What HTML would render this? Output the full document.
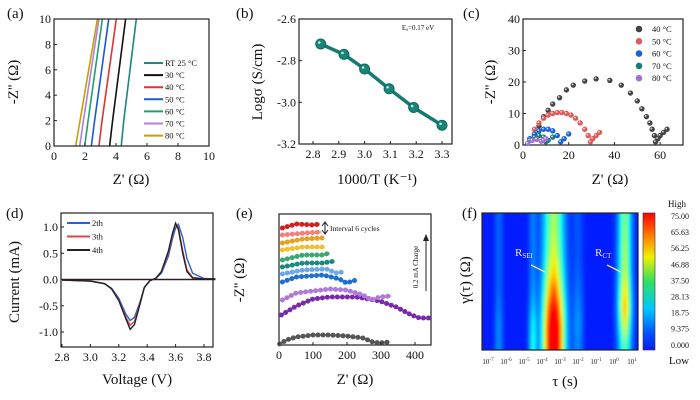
<!DOCTYPE html>
<html><head><meta charset="utf-8"><style>
html,body{margin:0;padding:0;background:#fff;}
svg{display:block;font-family:"Liberation Serif",serif;}
</style></head><body>
<svg id="fig" width="700" height="400" viewBox="0 0 700 400" xmlns="http://www.w3.org/2000/svg">
<defs>
<linearGradient id="jetbar" x1="0" y1="1" x2="0" y2="0">
<stop offset="0" stop-color="#0a1ee8"/><stop offset="0.12" stop-color="#0050ff"/><stop offset="0.3" stop-color="#00c8ff"/><stop offset="0.5" stop-color="#30e060"/><stop offset="0.68" stop-color="#f0f000"/><stop offset="0.85" stop-color="#ff7000"/><stop offset="1" stop-color="#ff0000"/>
</linearGradient>
<filter id="hblur" x="-10%" y="-10%" width="120%" height="120%"><feGaussianBlur stdDeviation="1.2 7"/></filter>
<clipPath id="fclip"><rect x="482" y="213" width="156" height="137"/></clipPath>
</defs>
</svg>
<script>
// ---------- data ----------
// (a)
const aLabels=['RT 25 °C','30 °C','40 °C','50 °C','60 °C','70 °C','80 °C'];
const aColors=['#1a8a7a','#111111','#e03434','#1a5ad0','#20a070','#b080e0','#c8a000'];
const aXBottom=[4.34,3.59,2.9,2.41,1.98,1.66,1.4];
const aXMid=[4.5,3.78,3.1,2.62,2.2,1.9,1.68];
const aXTop=[5.31,4.62,4.02,3.53,3.12,2.9,2.8];
// (b)
const bX=[2.83,2.92,3.0,3.095,3.19,3.3];
const bY=[-2.72,-2.77,-2.84,-2.935,-3.025,-3.11];
// (c)
const cLabels=['40 °C','50 °C','60 °C','70 °C','80 °C'];
const cColors=['#444444','#e05a5a','#1a62d8','#178070','#a070e0'];
const c40X=[5,7,9,11,13,16,19,22,27,32,38,43,47,50,52,54,55.5,56.5,57.5,58,59,60,61.5,63];
const c40Y=[3,6,9,11,13,15,17.5,19,20.3,21,20.5,19,16.5,14,11.5,9,7,5,3,1,2,3,4,5];
const c50X=[3,5,7,9,11,13,15,17,19,21,23,25,27,28.5,29.5,30.5,32,33.5];
const c50Y=[2,5,7,8.5,9.5,10,10.3,10.3,10,9.5,8.5,7,5,3,1,2,3,4];
const c60X=[3,5,7,9,11,13,15,16.5,18,20];
const c60Y=[2,3.5,4.5,5,5,4.5,3,1,2,3.5];
const c70X=[3,5,7,9,10,11,13];
const c70Y=[1.5,2.5,3,2.5,1,1.5,2.5];
const c80X=[2,4,6,8,9,10];
const c80Y=[0.5,1.5,1.8,1.2,1.5,2];
// (d)
const dLabels=['2th','3th','4th'];
const dColors=['#2a62d0','#d84848','#222222'];
const dV=[2.8,3.0,3.1,3.15,3.2,3.25,3.28,3.31,3.35,3.38,3.42,3.46,3.5,3.55,3.58,3.6,3.62,3.65,3.68,3.72,3.8,3.88];
const d2I=[-0.01,-0.03,-0.08,-0.17,-0.36,-0.66,-0.78,-0.72,-0.42,-0.15,-0.02,0.02,0.12,0.45,0.8,0.98,1.05,0.8,0.4,0.12,0.02,0.01];
const d3I=[-0.01,-0.03,-0.08,-0.18,-0.4,-0.72,-0.87,-0.8,-0.45,-0.15,-0.02,0.02,0.15,0.52,0.88,1.07,0.98,0.55,0.18,0.04,0.01,0.01];
const d4I=[-0.01,-0.03,-0.08,-0.18,-0.4,-0.75,-0.95,-0.86,-0.46,-0.15,-0.02,0.02,0.15,0.55,0.9,1.07,0.95,0.5,0.15,0.03,0.01,0.01];
// (e)
const eColors=['#555555','#7a2aa8','#b07ad8','#1f6fd0','#6aa8e8','#1a8a80','#3aa870','#f0c030','#e8a020','#f08080','#d02020'];
const eX=[[2,22,51,100,149,198,247,276,296,325],[7,51,100,149,227,296,345,389,414,443],[10,51,149,198,247,272,296,330],[10,51,129,178,198,227],[10,71,139,169,188],[10,71,129,164],[10,71,129,149],[10,71,134],[10,71,129],[10,80,125],[10,51,100,120]];
const eY=[[1,5,8,10,10,9,7,3,2,3],[30,39,46,48,48,44,38,30,27,27],[45,52,56,55,50,45,48,49],[63,68,70,66,62,65],[71,75,76,72,73],[78,82,82,84],[85,90,90,92],[95,98,98],[102,106,107],[110,112,113],[117,121,120,121]];
// (f)
const fCenters=[-6.4,-4.5,-3.35,-2.0,0.6];
const fWidths=[0.15,0.15,0.4,0.2,0.25];
const fAmps=[[8,8,8,8,8,10,12,12],[10,10,10,10,12,16,22,24],[40,42,46,54,66,82,95,95],[6,6,6,7,9,11,13,11],[36,38,40,42,50,56,46,32]];
const fBar=['75.00','65.63','56.25','46.88','37.50','28.13','18.75','9.375','0.000'];
const fTickExp=['-7','-6','-5','-4','-3','-2','-1','0','1'];

// ---------- helpers ----------
const NS='http://www.w3.org/2000/svg';
const svg=document.getElementById('fig');
function mk(tag,attrs,parent){const e=document.createElementNS(NS,tag);for(const k in attrs)e.setAttribute(k,attrs[k]);(parent||svg).appendChild(e);return e;}
function sc(d0,d1,p0,p1){return v=>p0+(v-d0)*(p1-p0)/(d1-d0);}
function txt(x,y,s,size,name,anchor,parent,extra){
  const t=mk('text',Object.assign({x:x,y:y,'font-size':size,'text-anchor':anchor||'middle',fill:'#111'},extra||{}),parent);
  t.textContent=s;
  
  
  return t;}
function group(name){const g=mk('g',{});
  
  
  return g;}
function frame(g,x0,y0,x1,y1){const r=mk('rect',{x:x0,y:y0,width:x1-x0,height:y1-y0,fill:'none',stroke:'#222','stroke-width':1.2},g);
  
  }
function xTicks(g,vals,labels,sx,yb,size){vals.forEach((v,i)=>{mk('line',{x1:sx(v),x2:sx(v),y1:yb,y2:yb-3,stroke:'#222'},g);
  txt(sx(v),yb+14,labels[i],size||12,'x-tick-label','middle',g);});}
function yTicks(g,vals,labels,sy,xl,size){vals.forEach((v,i)=>{mk('line',{x1:xl,x2:xl+3,y1:sy(v),y2:sy(v),stroke:'#222'},g);
  txt(xl-3,sy(v)+4,labels[i],size||12,'y-tick-label','end',g);});}
function ytitle(g,x,y,s,name){const t=txt(x,y,s,15,name,'middle',g,{transform:`rotate(-90 ${x} ${y})`});return t;}
function pline(g,xs,ys,sx,sy,attrs,name){const p=mk('polyline',Object.assign({points:xs.map((x,i)=>sx(x)+','+sy(ys[i])).join(' '),fill:'none'},attrs),g);
  
  
  return p;}
const panelLabels=[['(a)',7,18],['(b)',236,18],['(c)',463,18],['(d)',6,218],['(e)',236,218],['(f)',462,218]];
panelLabels.forEach(p=>{txt(p[1],p[2],p[0],15,'panel-label','start');});

// ---------- (a) ----------
{const g=group('panel-a');
 const sx=sc(0,10,54,209), sy=sc(0,10,146,19);
 aLabels.forEach((l,i)=>{pline(g,[aXBottom[i],aXMid[i],aXTop[i]],[0,2,10],sx,sy,{stroke:aColors[i],'stroke-width':1.6},'impedance-line');});
 frame(g,54,19,209,146);
 const t=[0,2,4,6,8,10];
 xTicks(g,t,t.map(String),sx,146);yTicks(g,t,t.map(String),sy,54);
 txt(131,184,"Z' (Ω)",15,'x-axis-title','middle',g);
 ytitle(g,18,82,"-Z'' (Ω)",'y-axis-title');
 aLabels.forEach((l,i)=>{const y=63+i*12.1;
   const ln=mk('line',{x1:144,x2:163,y1:y,y2:y,stroke:aColors[i],'stroke-width':2},g);
   
   
   txt(165,y+3,l,8.5,'legend-entry','start',g);});
}
// ---------- (b) ----------
{const g=group('panel-b');
 const sx=sc(2.8,3.3,313,442), sy=sc(-2.6,-3.2,19,144);
 frame(g,299,19,452,144);
 pline(g,bX,bY,sx,sy,{stroke:'#157a70','stroke-width':3.5},'fit-line');
 bX.forEach((x,i)=>{const c=mk('circle',{cx:sx(x),cy:sy(bY[i]),r:5,fill:'#1b8478',stroke:'#0f6a60'},g);
   
   
   mk('circle',{cx:sx(x)-1.5,cy:sy(bY[i])-1.5,r:1.3,fill:'#bfe8e2'},g);});
 const xt=[2.8,2.9,3.0,3.1,3.2,3.3];
 xTicks(g,xt,xt.map(v=>v.toFixed(1)),sx,144);
 const yt=[-2.6,-2.8,-3.0,-3.2];
 yTicks(g,yt,yt.map(v=>v.toFixed(1)),sy,299);
 txt(377,184,'1000/T (K⁻¹)',15,'x-axis-title','middle',g);
 ytitle(g,262,82,'Logσ (S/cm)','y-axis-title');
 txt(418,30,'Eₐ=0.17 eV',7,'activation-energy-label','middle',g);
}
// ---------- (c) ----------
{const g=group('panel-c');
 const sx=sc(0,70,523,683), sy=sc(0,40,145,19);
 frame(g,523,19,683,145);
 const sets=[[c40X,c40Y],[c50X,c50Y],[c60X,c60Y],[c70X,c70Y],[c80X,c80Y]];
 sets.forEach((s,k)=>{s[0].forEach((x,i)=>{const c=mk('circle',{cx:sx(x),cy:sy(s[1][i]),r:2.7,fill:cColors[k]},g);
   
   
   mk('circle',{cx:sx(x)-0.7,cy:sy(s[1][i])-0.7,r:0.9,fill:'#fff',opacity:0.8},g);});});
 const xt=[0,20,40,60], yt=[0,10,20,30,40];
 xTicks(g,xt,xt.map(String),sx,145);yTicks(g,yt,yt.map(String),sy,523);
 txt(610,184,"Z' (Ω)",15,'x-axis-title','middle',g);
 ytitle(g,495,82,"-Z'' (Ω)",'y-axis-title');
 cLabels.forEach((l,i)=>{const y=29+i*12.3;
   const c=mk('circle',{cx:639,cy:y,r:3.3,fill:cColors[i]},g);
   
   
   txt(652,y+3,l,8.5,'legend-entry','start',g);});
}
// ---------- (d) ----------
{const g=group('panel-d');
 const sx=sc(2.8,3.8,62,204), sy=sc(1,-1,227,332);
 const zero=[2.8,3.88];
 [d2I,d3I,d4I].forEach((I,k)=>{pline(g,dV,I,sx,sy,{stroke:dColors[k],'stroke-width':1.4},'cv-curve');
   pline(g,zero,[0,0],sx,sy,{stroke:dColors[k],'stroke-width':1.2},'cv-baseline');});
 frame(g,61,213,213,347);
 const xt=[2.8,3.0,3.2,3.4,3.6,3.8], yt=[1.0,0.5,0.0,-0.5,-1.0];
 xTicks(g,xt,xt.map(v=>v.toFixed(1)),sx,347);yTicks(g,yt,yt.map(v=>v.toFixed(1)),sy,61);
 txt(137,384,'Voltage (V)',15,'x-axis-title','middle',g);
 ytitle(g,19,282,'Current (mA)','y-axis-title');
 dLabels.forEach((l,i)=>{const y=223+i*13.5;
   const ln=mk('line',{x1:67,x2:90,y1:y,y2:y,stroke:dColors[i],'stroke-width':2},g);
   
   
   txt(92,y+3,l,8.5,'legend-entry','start',g);});
}
// ---------- (e) ----------
{const g=group('panel-e');
 const sx=sc(0,400,279,415), sy=v=>345-v;
 frame(g,279,214,431,345);
 eX.forEach((xs,k)=>{pline(g,xs,eY[k],sx,sy,{stroke:eColors[k],'stroke-width':2.5,opacity:0.6},'nyquist-curve');
   pline(g,xs,eY[k],sx,sy,{stroke:eColors[k],'stroke-width':5,'stroke-linecap':'round','stroke-dasharray':'0 5'},'nyquist-dots');});
 const xt=[0,100,200,300,400];
 xTicks(g,xt,xt.map(String),sx,345);
 txt(355,384,"Z' (Ω)",15,'x-axis-title','middle',g);
 ytitle(g,244,280,"-Z'' (Ω)",'y-axis-title');
 mk('line',{x1:325,x2:325,y1:223,y2:233,stroke:'#222','stroke-width':1},g);
 mk('path',{d:'M322,226 L325,222 L328,226 M322,230 L325,234 L328,230',stroke:'#222',fill:'none'},g);
 txt(330,231,'Interval 6 cycles',7.5,'interval-annotation','start',g);
 mk('line',{x1:426,x2:426,y1:291,y2:237,stroke:'#222','stroke-width':1},g);
 mk('path',{d:'M423,241 L426,234 L429,241 Z',fill:'#222'},g);
 txt(418,267,'0.2 mA  Charge',7,'charge-annotation','middle',g,{transform:'rotate(-90 418 267)'});
}
// ---------- (f) ----------
{const g=group('panel-f');
 const sx=sc(-7,1,488,632);
 const top=213,bot=350,nRows=fAmps[0].length,rh=(bot-top)/nRows;
 function jet(v){const t=Math.max(0.15,Math.min(0.875,0.15+v/75*0.725));const c=x=>Math.round(255*Math.max(0,Math.min(1,x)));
   return `rgb(${c(1.5-Math.abs(4*t-3))},${c(1.5-Math.abs(4*t-2))},${c(1.5-Math.abs(4*t-1))})`;}
 const bg=mk('rect',{x:482,y:top,width:156,height:137,fill:jet(0)},g);
 
 
 const hm=mk('g',{'clip-path':'url(#fclip)'},g);
 const inner=mk('g',{filter:'url(#hblur)'},hm);
 for(let r=-1;r<=nRows;r++){const rr=Math.max(0,Math.min(nRows-1,r));
   for(let px=478;px<642;px+=2){const lx=-7+(px+1-488)/18;let v=0;
     fCenters.forEach((c,k)=>{const z=(lx-c)/fWidths[k];v+=fAmps[k][rr]*Math.exp(-z*z/2);});
     const cell=mk('rect',{x:px,y:top+r*rh,width:2.4,height:rh+0.5,fill:jet(v)},inner);
     
     }}
 frame(g,482,213,638,350);
 fTickExp.forEach((e,i)=>{const t=mk('text',{x:sx(-7+i),y:364,'font-size':7,'text-anchor':'middle',fill:'#222'},g);
   
   
   t.innerHTML=`10<tspan font-size="5" dy="-3">${e}</tspan>`;});
 txt(565,386,'τ (s)',15,'x-axis-title','middle',g);
 ytitle(g,470,280,'γ(τ) (Ω)','y-axis-title');
 const rs=mk('text',{x:515,y:256,'font-size':11,fill:'#f3e3c0'},g);
 
 
 rs.innerHTML='R<tspan font-size="7" dy="2">SEI</tspan>';
 const rc=mk('text',{x:595,y:256,'font-size':11,fill:'#f3e3c0'},g);
 
 
 rc.innerHTML='R<tspan font-size="7" dy="2">CT</tspan>';
 mk('line',{x1:531,y1:265,x2:545,y2:272,stroke:'#f0d8a0','stroke-width':1.5},g);
 mk('line',{x1:607,y1:265,x2:621,y2:272,stroke:'#f0d8a0','stroke-width':1.5},g);
 const cb=mk('rect',{x:643,y:213,width:12,height:137,fill:'url(#jetbar)',stroke:'#333','stroke-width':0.6},g);
 
 
 fBar.forEach((l,i)=>{txt(680,219+i*16.1,l,8,'colorbar-tick-label','middle',g);});
 txt(677,207,'High',9,'colorbar-high-label','middle',g);
 txt(679,364,'Low',11,'colorbar-low-label','middle',g);
}
</script>
</body></html>
